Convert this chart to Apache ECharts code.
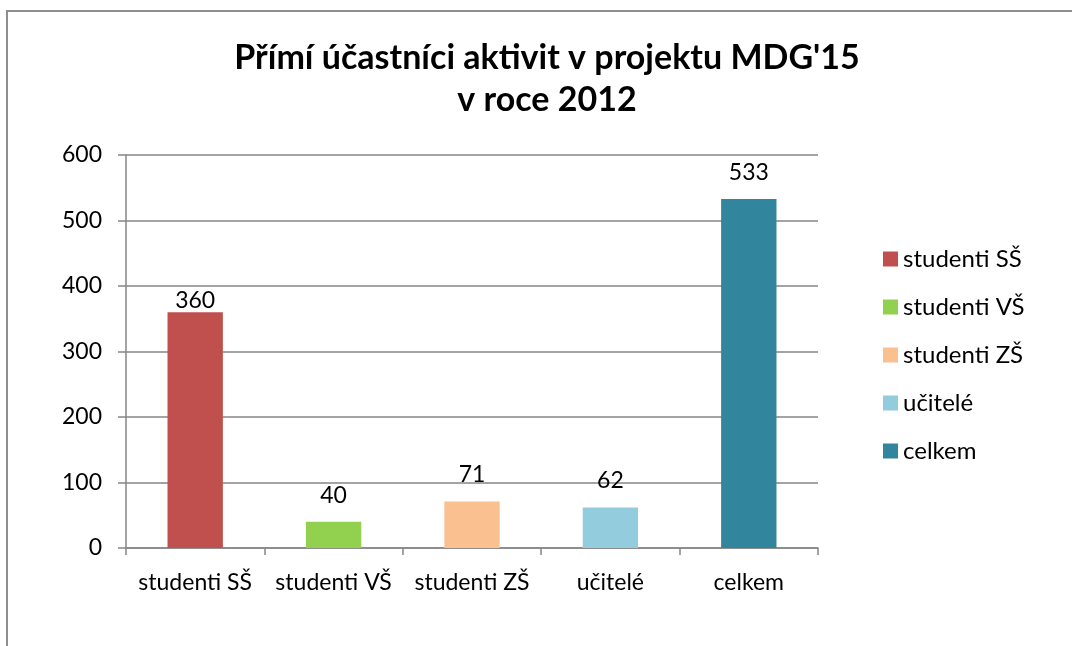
<!DOCTYPE html>
<html>
<head>
<meta charset="utf-8">
<script src="https://cdn.jsdelivr.net/npm/echarts@6/dist/echarts.min.js"></script>
<style>
html, body { margin: 0; padding: 0; background: #fff; }
#chart { width: 1072px; height: 646px; position: relative; }
#frame { position: absolute; left: 6px; top: 10px; width: 1200px; height: 800px;
         border-left: 2px solid #8e8e8e; border-top: 2px solid #8e8e8e; pointer-events: none; }
</style>
</head>
<body>
<div id="chart"></div>
<div id="frame"></div>
<script>
var categories = ['studenti SŠ', 'studenti VŠ', 'studenti ZŠ', 'učitelé', 'celkem']
var values = [360, 40, 71, 62, 533]
var colors = ['#C0504D', '#92D050', '#FAC090', '#93CDDD', '#31859C']
var yTicks = [0, 100, 200, 300, 400, 500, 600]

var font = 'Lato, "Open Sans", sans-serif'
var myChart = echarts.init(document.getElementById('chart'))

// one series per category so that the legend lists each one, stacked so bars stay centred
var series = categories.map(function(name, i) {
    var data = categories.map(function(c, j) { return j == i ? values[i] : '-' })
    return {
        name: name,
        type: 'bar',
        stack: 'all',
        barWidth: '40%',
        data: data,
        itemStyle: { color: colors[i] },
        label: {
            show: true,
            position: 'top',
            distance: values[i] == 360 ? 0 : 15,
            color: '#000',
            fontFamily: font,
            fontSize: 23
        }
    }
})

var option = {
    animation: false,
    title: {
        text: "Přímí účastníci aktivit v projektu MDG'15\nv roce 2012",
        left: 542,
        top: 32,
        textAlign: 'center',
        textStyle: { fontFamily: font, fontWeight: 'bold', fontSize: 34, lineHeight: 42, color: '#000' }
    },
    legend: {
        orient: 'vertical',
        left: 878,
        top: 242,
        itemWidth: 15,
        itemHeight: 15,
        itemGap: 24,
        icon: 'rect',
        textStyle: { fontFamily: font, fontSize: 24, color: '#000' },
        data: categories
    },
    grid: { left: 126, right: 254, top: 155, bottom: 98 },
    xAxis: {
        type: 'category',
        data: categories,
        axisLine: { lineStyle: { color: '#868686', width: 1.5 } },
        axisTick: { show: true, length: 7, alignWithLabel: false, lineStyle: { color: '#868686', width: 1.5 } },
        axisLabel: { fontFamily: font, fontSize: 23, color: '#000', margin: 23, interval: 0 }
    },
    yAxis: {
        type: 'value',
        min: yTicks[0],
        max: yTicks[yTicks.length - 1],
        interval: 100,
        axisLine: { show: true, lineStyle: { color: '#868686', width: 1.5 } },
        axisTick: { show: true, length: 8, lineStyle: { color: '#868686', width: 1.5 } },
        splitLine: { lineStyle: { color: '#868686', width: 1.5 } },
        axisLabel: { fontFamily: font, fontSize: 23, color: '#000', margin: 24 }
    },
    series: series
}
myChart.setOption(option)
</script>
</body>
</html>
